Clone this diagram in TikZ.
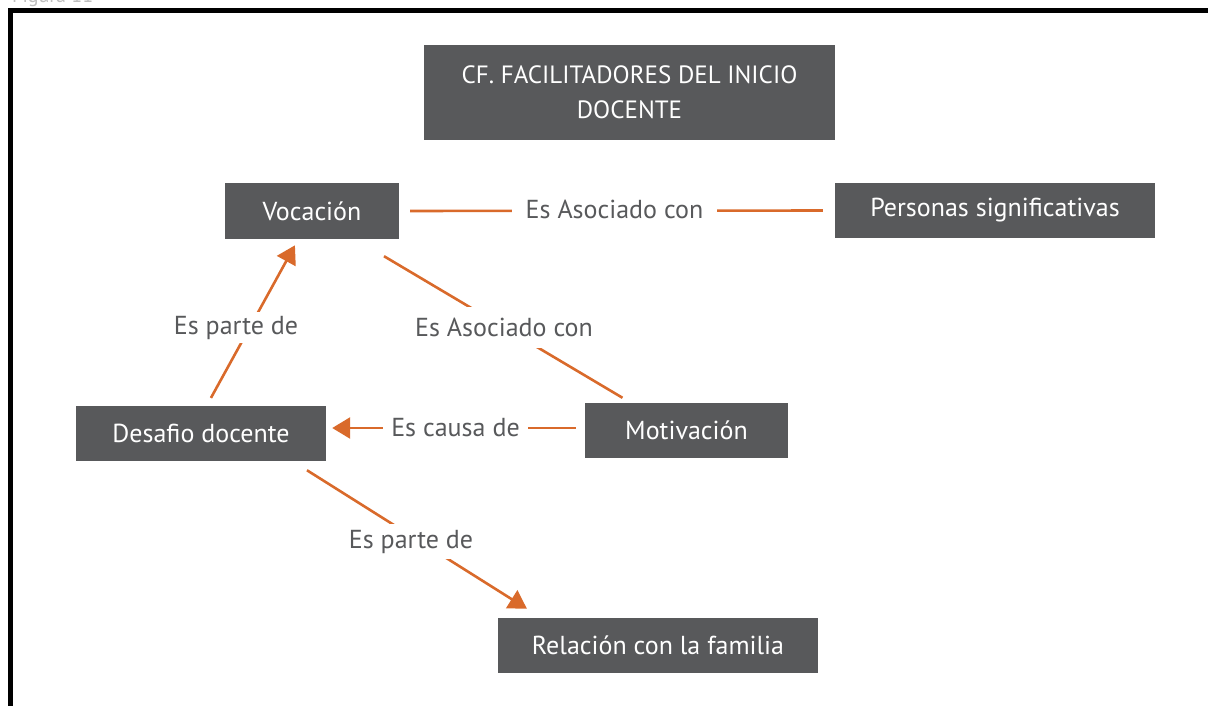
\documentclass[tikz,border=0pt]{standalone}
\usepackage{fontspec}
\setmainfont{PT Sans}
\usetikzlibrary{arrows.meta}
\definecolor{boxgray}{RGB}{88,89,91}
\definecolor{conorange}{RGB}{217,106,43}
\definecolor{figgray}{RGB}{190,190,190}
\tikzset{
  box/.style={fill=boxgray, text=white, inner sep=0pt, font=\fontsize{26}{30}\selectfont},
  lab/.style={fill=white, text=boxgray, inner sep=0pt, font=\fontsize{26}{30}\selectfont},
  conn/.style={draw=conorange, line width=2.6pt},
  arr/.style={conn, -{Triangle[length=18pt,width=21pt]}},
}
\begin{document}
\begin{tikzpicture}[x=1pt,y=-1pt]
\useasboundingbox (0,0) rectangle (1208,706);
% caption (clipped at the top edge, as in the reference)
\node[anchor=base west, text=figgray, inner sep=0pt, font=\fontsize{20}{24}\selectfont] (fig) at (12,3) {Figura 11};
% frame
\draw[line width=5pt] (10.5,730) -- (10.5,10.5) -- (1230,10.5);
% boxes
\node[box, minimum width=411, minimum height=95, align=center, font=\fontsize{25}{35.5}\selectfont] (title) at (629.5,92.5) {CF. FACILITADORES DEL INICIO\\DOCENTE};
\node[box, minimum width=174, minimum height=56] (voc) at (312,211) {Vocación};
\node[box, minimum width=320, minimum height=55] (pers) at (995,210.5) {Personas significativas};
\node[box, minimum width=250, minimum height=55] (des) at (201,433.5) {Desafio docente};
\node[box, minimum width=203, minimum height=55] (mot) at (686.5,430.5) {Motivación};
\node[box, minimum width=320, minimum height=55] (rel) at (658,645.5) {Relación con la familia};
% connectors
\draw[conn, shorten <=11pt, shorten >=12pt] (voc.east) -- (pers.west);
\draw[conn] ([xshift=72pt,yshift=-17pt]voc.south) -- ([xshift=-64pt,yshift=5pt]mot.north);
\draw[arr, shorten <=9pt, shorten >=7pt] ([xshift=5.6pt]des.north) -- ([xshift=-13.7pt]voc.south);
\draw[arr] ([xshift=-9pt,yshift=2.5pt]mot.west) -- ([xshift=6pt,yshift=5.5pt]des.east);
\draw[arr, shorten <=17pt, shorten >=17pt] ([xshift=91.6pt]des.south) -- ([xshift=-116.7pt]rel.north);
% labels
\node[lab, minimum width=205, minimum height=30] (l1) at (614.5,209) {Es Asociado con};
\node[lab, minimum width=150, minimum height=41] (l2) at (504,327) {Es Asociado con};
\node[lab, minimum width=124, minimum height=31] (l3) at (236,327.5) {Es parte de};
\node[lab, minimum width=145, minimum height=30] (l4) at (455.5,428) {Es causa de};
\node[lab, minimum width=124, minimum height=35] (l5) at (411,541.5) {Es parte de};
\end{tikzpicture}
\end{document}
